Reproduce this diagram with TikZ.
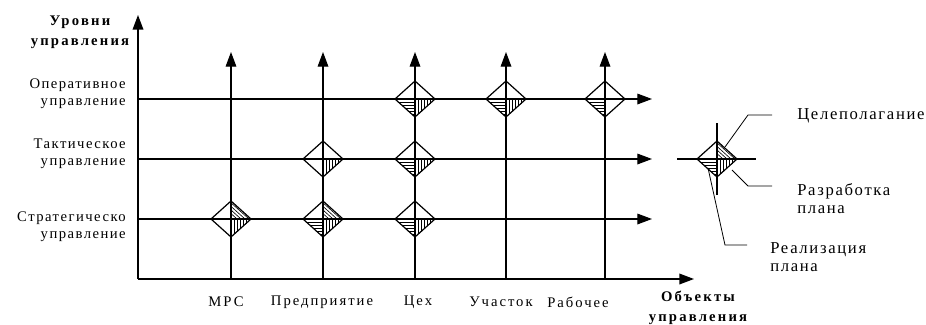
\documentclass[tikz,border=0pt]{standalone}
\usepackage{fontspec}
\setmainfont{Liberation Serif}
\newfontfamily\spaced[LetterSpace=10]{Liberation Serif}
\newfontfamily\spacedb[LetterSpace=13.5]{Liberation Serif}
\newfontfamily\widebf[LetterSpace=15]{Liberation Serif}
\usetikzlibrary{arrows.meta}

\tikzset{
	axisline/.style={line width=1.1pt, -{Triangle[length=11pt,width=8pt]}},
	gridline/.style={line width=0.9pt, -{Triangle[length=11pt,width=8pt]}},
	rombline/.style={line width=0.9pt, line join=miter},
	hatch/.style={line width=0.45pt},
	leader/.style={line width=0.6pt},
	lbl/.style={font=\spaced\fontsize{11}{12.5}\selectfont, inner sep=0pt},
	objlbl/.style={font=\spacedb\fontsize{11}{12.5}\selectfont, inner sep=0pt},
	leglbl/.style={font=\spaced\fontsize{12.5}{13.5}\selectfont, inner sep=0pt, anchor=west, align=left},
	title/.style={font=\widebf\bfseries\fontsize{11}{15}\selectfont, inner sep=0pt, align=center},
}

% diamond: #1 centre, #2 upper right, #3 lower right, #4 lower left (1 = hatched)
\newcommand{\rombus}[4]{%
	\begin{scope}[shift={(#1)}]
		\ifnum#2=1
		\foreach \t in {0.3,0.5,0.7,0.9}
		\draw[hatch] (0,{-18*\t}) -- ({20*\t},0);
		\fi
		\ifnum#3=1
		\foreach \u in {3,6,...,18}
		\draw[hatch] (\u,0) -- (\u,{18*(1-\u/20)});
		\fi
		\ifnum#4=1
		\foreach \v in {3,6,...,15}
		\draw[hatch] ({-20*(1-\v/18)},\v) -- (0,\v);
		\fi
		\draw[rombline] (-20,0) -- (0,-18) -- (20,0) -- (0,18) -- cycle;
	\end{scope}}

\begin{document}
\begin{tikzpicture}[x=0.75pt, y=-0.75pt, line cap=butt]
\useasboundingbox (0,0) rectangle (926,325);

%========================
% axes
%========================
\coordinate (o) at (138,279);
\coordinate (ytop) at (138,15);
\coordinate (xend) at (694,279);
\draw[axisline] (o) -- (ytop);
\draw[axisline] (o) -- (xend);

% columns (objects) and rows (levels)
\coordinate (mrs) at (231,279);
\coordinate (pred) at (323,279);
\coordinate (tseh) at (415,279);
\coordinate (uch) at (506,279);
\coordinate (rab) at (605,279);
\coordinate (strat) at (138,219);
\coordinate (takt) at (138,159);
\coordinate (oper) at (138,99);

\foreach \c in {mrs,pred,tseh,uch,rab}
	\draw[gridline] (\c) -- ++(0,-227);
\foreach \r in {strat,takt,oper}
	\draw[gridline] (\r) -- ++(514,0);

% labels
\node[title] (lev) at (80,32) {Уровни\\управления};
\node[title] (obj) at (698,308) {Объекты\\управления};
\node[lbl, align=right, anchor=east] (lop) at (126,94) {Оперативное\\управление};
\node[lbl, align=right, anchor=east] (lta) at (126,154) {Тактическое\\управление};
\node[lbl, align=right, anchor=east] (lst) at (126,227) {Стратегическо \\управление};
\node[objlbl] (nmrs) at (226,302) {МРС};
\node[objlbl] (npred) at (322,302) {Предприятие};
\node[objlbl] (ntseh) at (418,302) {Цех};
\node[objlbl] (nuch) at (501,302) {Участок};
\node[objlbl] (nrab) at (578,302) {Рабочее};

%========================
% diamonds
%========================
\rombus{mrs |- strat}{1}{1}{0}
\rombus{pred |- strat}{1}{1}{1}
\rombus{tseh |- strat}{0}{1}{1}
\rombus{pred |- takt}{0}{1}{0}
\rombus{tseh |- takt}{0}{1}{1}
\rombus{tseh |- oper}{0}{1}{1}
\rombus{uch |- oper}{0}{1}{1}
\rombus{rab |- oper}{0}{0}{1}

%========================
% legend
%========================
\coordinate (leg) at (717,159);
\draw[gridline, -] (leg) ++(-40,0) -- ++(79,0);
\draw[gridline, -] (leg) ++(0,-36) -- ++(0,72);
\rombus{leg}{1}{1}{1}

\node[leglbl] (goal) at (797,116) {Целеполагание};
\node[leglbl] (dev) at (797,199) {Разработка\\плана};
\node[leglbl] (real) at (770,257) {Реализация\\плана};

\draw[leader] (725,147) -- (748,115) -- (772,115);
\draw[leader] (732,170) -- (748,186) -- (772,186);
\draw[leader] (708,168) -- (725,245) -- (747,245);
\end{tikzpicture}
\end{document}
